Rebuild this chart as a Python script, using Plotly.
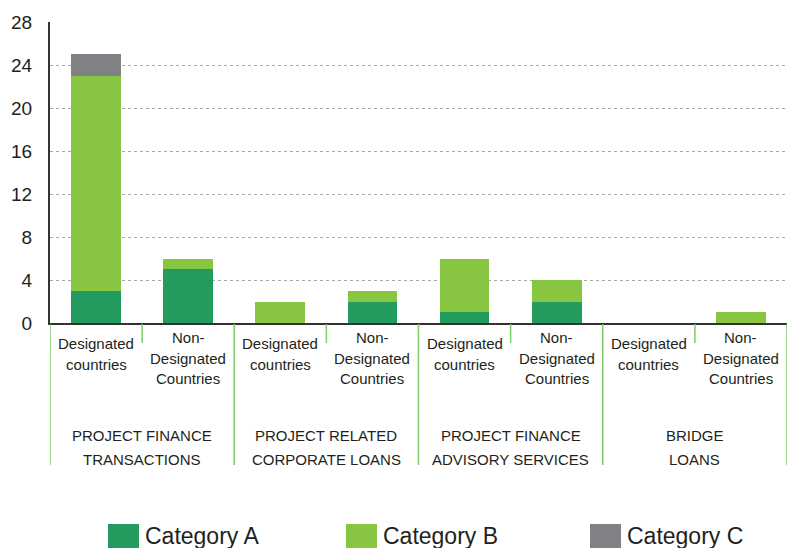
import plotly.graph_objects as go

groups = ["PROJECT FINANCE<br>TRANSACTIONS", "PROJECT RELATED<br>CORPORATE LOANS",
          "PROJECT FINANCE<br>ADVISORY SERVICES", "BRIDGE<br>LOANS"]
subcats = ["Designated<br>countries", "Non-<br>Designated<br>Countries"] * 4
cat_a = [3, 5, 0, 2, 1, 2, 0, 0]
cat_b = [20, 1, 2, 1, 5, 2, 0, 1]
cat_c = [2, 0, 0, 0, 0, 0, 0, 0]
series_names = ["Category A", "Category B", "Category C"]
colors = ["#239b5f", "#88c541", "#808184"]
y_ticks = [0, 4, 8, 12, 16, 20, 24, 28]

W, H = 792, 548
L, R, T, B = 50, 5, 22, 225
ph = H - T - B

def py(p):  # pixel y -> paper y
    return (H - B - p) / ph

def px(p):
    return (p - L) / (W - L - R)

FONT = "Liberation Sans, Arial, sans-serif"
TXT = "#231f20"

fig = go.Figure()
xs = list(range(len(subcats)))
for name, vals, col in zip(series_names, [cat_a, cat_b, cat_c], colors):
    fig.add_trace(go.Bar(x=xs, y=vals, name=name, marker=dict(color=col, line=dict(width=0)),
                         width=0.54, showlegend=False))

shapes = []
annotations = []
# category divider lines
for i in range(len(subcats) + 1):
    xpos = i - 0.5
    long = (i % 2 == 0)
    shapes.append(dict(type="line", xref="x", yref="paper", x0=xpos, x1=xpos,
                       y0=py(324), y1=py(465 if long else 343),
                       line=dict(color="#7fcb6a", width=1.5)))

# subcategory labels (per line for tight spacing)
for i, lab in enumerate(subcats):
    lines = lab.split("<br>")
    top = 336 if len(lines) == 2 else 330
    for k, ln in enumerate(lines):
        annotations.append(dict(x=i, xref="x", y=py(top + 7 + k * 21), yref="paper",
                                text=ln, showarrow=False, yanchor="middle", xanchor="center",
                                font=dict(family=FONT, size=15, color=TXT)))
# group labels
for g, lab in enumerate(groups):
    for k, ln in enumerate(lab.split("<br>")):
        annotations.append(dict(x=2 * g + 0.5, xref="x", y=py(435 + k * 24), yref="paper",
                                text=ln, showarrow=False, yanchor="middle", xanchor="center",
                                font=dict(family=FONT, size=15, color=TXT)))

# custom legend
leg_x = [108, 346, 590]
for name, col, lx in zip(series_names, colors, leg_x):
    shapes.append(dict(type="rect", xref="paper", yref="paper", x0=px(lx), x1=px(lx + 31),
                       y0=py(548), y1=py(524), fillcolor=col, line=dict(width=0)))
    annotations.append(dict(x=px(lx + 35), xref="paper", y=py(536), yref="paper", text=name,
                            showarrow=False, xanchor="left", yanchor="middle",
                            font=dict(family=FONT, size=23, color=TXT)))

fig.update_layout(
    width=W, height=H, margin=dict(l=L, r=R, t=T, b=B, autoexpand=False),
    barmode="stack", bargap=0.46, plot_bgcolor="white", paper_bgcolor="white",
    shapes=shapes, annotations=annotations, showlegend=False,
    xaxis=dict(range=[-0.5, 7.5], showticklabels=False, showgrid=False, zeroline=False,
               showline=True, linecolor="#333333", linewidth=2, ticks="", automargin=False),
    yaxis=dict(range=[0, 28], tickvals=y_ticks, showgrid=True, gridcolor="#a8a8a8",
               griddash="dot", gridwidth=1, zeroline=False, showline=True, automargin=False,
               linecolor="#333333", linewidth=2, ticks="", ticklabelstandoff=12,
               tickfont=dict(family=FONT, size=19, color=TXT)),
)
fig.write_html("out.html", config={"displayModeBar": False},
               post_script="document.body.style.margin='0';document.body.style.overflow='hidden';")
